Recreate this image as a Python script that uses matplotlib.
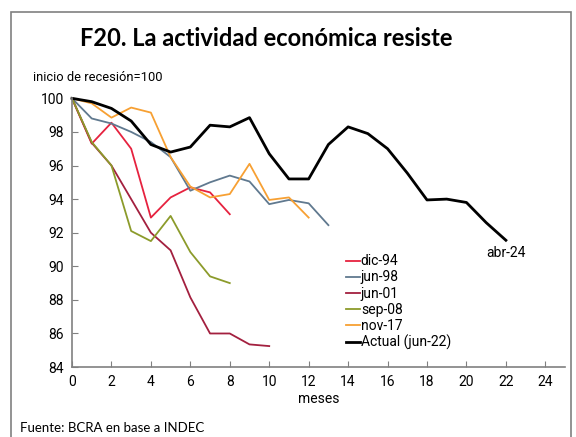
import matplotlib
matplotlib.use("Agg")
import matplotlib.pyplot as plt
from matplotlib.patches import Rectangle

# data: index, start of recession = 100
dic94 = [100, 97.3, 98.55, 97.0, 92.9, 94.1, 94.7, 94.4, 93.1]
jun98 = [100, 98.8, 98.5, 98.0, 97.4, 96.5, 94.5, 95.0, 95.4, 95.05, 93.7, 93.95, 93.75, 92.45]
jun01 = [100, 97.35, 96.0, 94.0, 92.0, 90.95, 88.15, 86.0, 86.0, 85.35, 85.25]
sep08 = [100, 97.4, 96.0, 92.1, 91.5, 93.0, 90.85, 89.4, 89.0]
nov17 = [100, 99.7, 98.85, 99.45, 99.15, 96.5, 94.75, 94.1, 94.3, 96.1, 93.95, 94.1, 92.9]
actual = [100, 99.8, 99.4, 98.65, 97.25, 96.8, 97.1, 98.4, 98.3, 98.85, 96.7, 95.2, 95.2,
          97.25, 98.3, 97.9, 97.0, 95.55, 93.95, 94.0, 93.8, 92.6, 91.55]

series = [
    ("dic-94", dic94, "#e6223f", 1.3),
    ("jun-98", jun98, "#60798f", 1.3),
    ("jun-01", jun01, "#a3203f", 1.3),
    ("sep-08", sep08, "#8c9b2b", 1.3),
    ("nov-17", nov17, "#f7a033", 1.3),
    ("Actual (jun-22)", actual, "black", 2.0),
]

xticks = list(range(0, 25, 2))
yticks = list(range(84, 101, 2))

plt.rcParams["font.family"] = ["Roboto", "DejaVu Sans"]

fig = plt.figure(figsize=(5.76, 4.37), dpi=100)
ax = fig.add_axes([0.125, 0.160, 0.856, 0.615])

for name, vals, color, lw in series:
    ax.plot(range(len(vals)), vals, color=color, lw=lw, label=name, clip_on=False)

ax.set_xlim(0, 25)
ax.set_ylim(84, 100)
ax.set_xticks(xticks)
ax.set_yticks(yticks)
ax.tick_params(direction="in", length=4, color="#808080", labelsize=10, pad=6)
for s in ["top", "right"]:
    ax.spines[s].set_visible(False)
for s in ["left", "bottom"]:
    ax.spines[s].set_color("#808080")
    ax.spines[s].set_linewidth(1.2)

ax.set_xlabel("meses", fontsize=10, labelpad=2)
ax.text(22, 90.8, "abr-24", ha="center", va="center", fontsize=10)

ax.legend(loc="upper left", bbox_to_anchor=(0.545, 0.44), frameon=False, fontsize=10,
          handlelength=1.0, handletextpad=0.05, labelspacing=0.15, borderaxespad=0)

fig.text(0.057, 0.823, "inicio de recesión=100", fontsize=9.3, va="center")
fig.text(0.462, 0.912, "F20. La actividad económica resiste", ha="center", va="center",
         fontsize=17, fontweight="bold", family=["Lato", "DejaVu Sans"])
fig.text(0.035, 0.02, "Fuente: BCRA en base a INDEC", fontsize=9.5, va="center",
         family=["Lato", "DejaVu Sans"])

fig.patches.append(Rectangle((11 / 576, -0.05), 560 / 576, 1.05 - 12 / 437,
                             transform=fig.transFigure, fill=False, ec="#808080", lw=1.2))

fig.savefig("out.png", dpi=100)
